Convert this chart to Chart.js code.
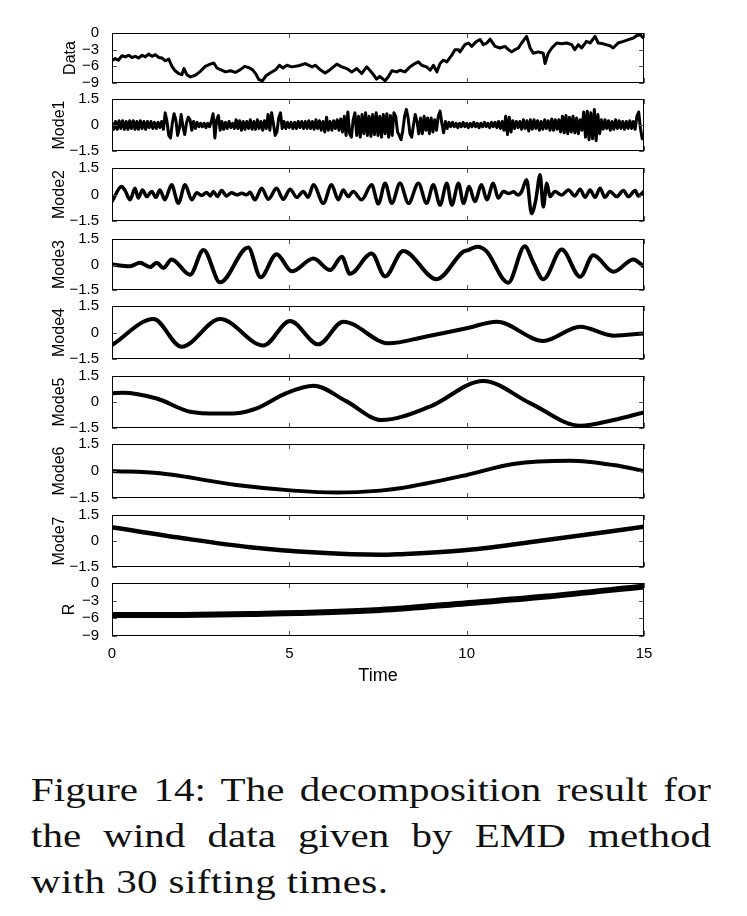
<!DOCTYPE html>
<html>
<head>
<meta charset="utf-8">
<script src="https://cdn.jsdelivr.net/npm/chart.js@4.4.1/dist/chart.umd.min.js"></script>
<style>
  body { margin: 0; background: #fff; width: 747px; height: 916px; overflow: hidden; position: relative; }
  canvas { position: absolute; left: 0; }
  .cap { position: absolute; left: 31px; width: 680px; font-family: "Liberation Serif", "Times New Roman", serif; font-size: 41px; line-height: 41px; color: #111; transform: scaleY(0.8); transform-origin: 0 0; }
  .just { text-align: justify; text-align-last: justify; }
</style>
</head>
<body>
<div class="cap just" style="top:774px">Figure 14: The decomposition result for</div>
<div class="cap just" style="top:820px">the wind data given by EMD method</div>
<div class="cap" style="top:866px; letter-spacing:0.4px">with 30 sifting times.</div>
<script>
// time axis ticks (s)
var xTickVals = [0, 5, 10, 15];

// raw wind data
var dataT = [0.00, 0.09, 0.18, 0.28, 0.38, 0.47, 0.56, 0.66, 0.75, 0.85,
  0.94, 1.03, 1.13, 1.22, 1.32, 1.41, 1.50, 1.60, 1.69, 1.78,
  1.88, 1.97, 2.03, 2.11, 2.21, 2.35, 2.49, 2.63, 2.77, 2.87,
  2.96, 3.06, 3.20, 3.34, 3.48, 3.62, 3.74, 3.85, 3.96, 4.06,
  4.14, 4.24, 4.34, 4.48, 4.62, 4.72, 4.82, 4.93, 5.07, 5.26,
  5.45, 5.64, 5.73, 5.87, 6.01, 6.15, 6.34, 6.48, 6.62, 6.76,
  6.90, 7.04, 7.18, 7.27, 7.37, 7.46, 7.55, 7.70, 7.80, 7.89,
  8.03, 8.12, 8.26, 8.40, 8.54, 8.64, 8.73, 8.87, 8.97, 9.06,
  9.16, 9.25, 9.34, 9.44, 9.58, 9.67, 9.77, 9.81, 9.95, 10.05,
  10.14, 10.28, 10.38, 10.47, 10.57, 10.66, 10.80, 10.94, 11.08, 11.18,
  11.27, 11.36, 11.46, 11.55, 11.69, 11.79, 11.88, 12.02, 12.16, 12.21,
  12.30, 12.40, 12.54, 12.68, 12.82, 12.96, 13.05, 13.15, 13.24, 13.38,
  13.48, 13.62, 13.71, 13.85, 14.04, 14.13, 14.27, 14.42, 14.56, 14.70,
  14.79, 14.89, 15.00];
var dataV = [-5.0, -4.6, -4.9, -4.1, -4.3, -4.0, -4.4, -4.2, -4.5, -4.0,
  -4.3, -3.8, -4.2, -3.9, -4.4, -4.5, -5.0, -4.7, -6.0, -6.8,
  -7.3, -7.5, -6.4, -7.5, -7.9, -7.6, -6.9, -6.0, -5.6, -5.4,
  -6.3, -6.6, -7.0, -6.8, -7.1, -6.6, -6.0, -6.2, -6.6, -7.4,
  -8.4, -8.6, -7.7, -7.1, -6.6, -5.8, -6.3, -5.8, -6.1, -5.9,
  -5.5, -6.1, -5.8, -6.6, -7.2, -6.6, -5.6, -6.1, -6.4, -7.0,
  -6.4, -7.3, -6.1, -6.7, -7.5, -8.3, -7.8, -8.6, -7.8, -6.8,
  -7.0, -6.7, -7.0, -6.1, -5.5, -5.2, -5.8, -6.1, -6.7, -5.8,
  -7.0, -5.5, -4.9, -5.2, -4.0, -3.0, -3.0, -3.4, -2.1, -1.8,
  -2.4, -1.5, -1.2, -2.1, -1.8, -1.1, -2.4, -2.7, -2.4, -3.0,
  -3.4, -3.0, -2.7, -1.8, -0.6, -2.7, -3.65, -3.4, -3.65, -5.5,
  -3.65, -2.7, -1.8, -1.95, -1.8, -2.1, -3.0, -2.1, -2.7, -1.5,
  -1.8, -0.6, -1.8, -1.95, -2.3, -2.7, -1.8, -1.5, -1.2, -0.9,
  -0.5, -0.3, -1.0];

// mode 1, read every 0.05 s
var mode1Step = 0.05;
var mode1V = [0.15, -0.25, 0.2, -0.25, 0.25, -0.2, 0.25, -0.25, 0.2, -0.25,
  0.25, -0.2, 0.25, -0.25, 0.2, -0.25, 0.25, -0.2, 0.2, -0.25,
  0.2, -0.15, 0.2, -0.2, 0.15, -0.2, 0.15, -0.15, 0.2, -0.25,
  0.7, 0.2, -0.6, -0.75, 0.1, 0.65, 0.3, -0.6, -0.2, 0.6,
  -0.1, -0.55, 0.1, 0.45, 0.3, -0.3, 0.2, -0.2, 0.15, -0.1,
  0.1, -0.1, 0.1, -0.15, 0.1, -0.1, 0.2, 0.65, -0.75, 0.3,
  0.55, -0.3, 0.2, -0.25, 0.15, -0.2, 0.2, -0.15, 0.1, -0.2,
  0.3, -0.2, 0.25, -0.3, 0.2, -0.25, 0.2, -0.2, 0.3, -0.25,
  0.2, -0.25, 0.3, -0.2, 0.2, -0.3, 0.25, -0.2, 0.6, -0.3,
  0.7, 0.1, -0.6, -0.4, 0.4, 0.7, -0.2, 0.2, -0.2, 0.15,
  -0.15, 0.15, -0.2, 0.15, -0.2, 0.2, -0.15, 0.2, -0.2, 0.2,
  -0.2, 0.25, -0.2, 0.2, -0.25, 0.3, -0.2, 0.25, -0.3, 0.2,
  -0.4, 0.45, -0.3, 0.2, -0.3, 0.25, -0.2, 0.3, -0.3, 0.35,
  -0.4, 0.5, -0.6, 0.75, -0.5, -0.7, 0.3, 0.7, -0.6, 0.5,
  -0.7, 0.6, -0.5, 0.7, -0.6, 0.5, -0.65, 0.6, -0.55, 0.7,
  -0.6, 0.5, -0.7, 0.6, -0.5, 0.65, -0.7, 0.55, -0.6, 0.7,
  0.5, -0.4, -0.6, -0.85, -0.3, 0.5, 0.9, 0.4, -0.5, -0.7,
  0.0, 0.6, 0.2, -0.5, 0.4, -0.5, 0.5, -0.3, 0.4, -0.5,
  0.4, -0.4, 0.3, -0.3, 0.5, 0.8, 0.1, -0.45, 0.2, -0.2,
  0.15, -0.1, 0.15, -0.1, 0.1, -0.15, 0.1, -0.1, 0.15, -0.1,
  0.1, -0.15, 0.1, -0.1, 0.15, -0.1, 0.1, -0.15, 0.1, -0.1,
  0.15, -0.1, 0.1, -0.15, 0.15, -0.1, 0.15, -0.15, 0.2, -0.2,
  0.2, -0.3, 0.5, -0.55, 0.45, -0.4, 0.25, -0.2, 0.2, -0.15,
  0.2, -0.25, 0.3, -0.2, 0.25, -0.35, 0.3, -0.25, 0.3, -0.2,
  0.25, -0.3, 0.2, -0.25, 0.3, -0.2, 0.25, -0.3, 0.35, -0.3,
  0.3, -0.25, 0.3, -0.4, 0.5, -0.45, 0.55, -0.5, 0.45, -0.4,
  0.5, -0.45, 0.4, -0.5, 0.3, -0.3, 0.75, -0.7, 0.8, -0.85,
  0.7, -0.8, 0.9, -0.9, 0.6, -0.5, 0.3, -0.25, 0.3, -0.2,
  0.25, -0.3, 0.2, -0.25, 0.3, -0.2, 0.25, -0.2, 0.2, -0.25,
  0.2, -0.2, 0.25, -0.2, 0.2, -0.25, 0.5, 0.75, -0.2, -0.8,
  -0.6];
var mode1T = mode1V.map(function (v, i) { return i * mode1Step; });

// modes 2..7 and residue: turning points
var mode2T = [0, 0.27, 0.37, 0.51, 0.65, 0.74, 0.86, 0.98, 1.12, 1.24,
  1.35, 1.49, 1.68, 1.87, 2.06, 2.25, 2.39, 2.53, 2.67, 2.77,
  2.86, 2.97, 3.09, 3.23, 3.37, 3.52, 3.66, 3.80, 3.89, 4.03,
  4.22, 4.41, 4.64, 4.83, 5.02, 5.21, 5.39, 5.53, 5.68, 5.96,
  6.19, 6.38, 6.52, 6.66, 6.80, 7.04, 7.32, 7.51, 7.70, 7.89,
  8.12, 8.36, 8.64, 8.87, 9.06, 9.25, 9.44, 9.58, 9.77, 9.91,
  10.07, 10.23, 10.42, 10.57, 10.75, 10.89, 11.04, 11.18, 11.32, 11.45,
  11.55, 11.69, 11.83, 11.95, 12.07, 12.16, 12.26, 12.35, 12.49, 12.68,
  12.87, 13.05, 13.20, 13.34, 13.48, 13.62, 13.76, 13.90, 14.04, 14.23,
  14.42, 14.56, 14.75, 14.84, 15];
var mode2V = [-0.4, 0.45, 0.22, -0.3, 0.35, -0.2, 0.26, -0.12, 0.17, -0.16,
  0.26, -0.3, 0.55, -0.5, 0.55, -0.3, 0.1, -0.05, 0.12, -0.08,
  0.17, -0.12, 0.22, -0.08, 0.1, -0.02, 0.07, -0.02, 0.13, -0.3,
  0.35, -0.27, 0.35, -0.27, 0.3, -0.16, 0.17, -0.15, 0.55, -0.5,
  0.55, -0.3, 0.26, -0.12, 0.17, -0.3, 0.55, -0.53, 0.64, -0.5,
  0.64, -0.5, 0.64, -0.5, 0.55, -0.6, 0.64, -0.6, 0.64, -0.5,
  0.45, -0.4, 0.55, -0.3, 0.64, -0.2, 0.17, 0.05, 0.15, -0.03,
  0.17, 0.83, -1.07, -0.3, 1.12, -0.7, 0.64, -0.12, 0.17, -0.03,
  0.26, -0.08, 0.3, -0.16, 0.26, -0.16, 0.35, -0.16, 0.17, -0.12,
  0.22, -0.12, 0.22, -0.08, 0.17];

var mode3T = [0, 0.51, 0.79, 1.07, 1.26, 1.45, 1.68, 2.2, 2.58, 3.05,
  3.84, 4.19, 4.64, 5.07, 5.68, 6.15, 6.48, 6.71, 7.32, 7.7,
  8.21, 9.15, 9.9, 10.05, 10.3, 10.55, 11.17, 11.64, 11.87, 12.16,
  12.68, 13.2, 13.57, 14.14, 14.7, 15];
var mode3V = [0, -0.1, 0.1, -0.15, 0.1, -0.2, 0.3, -0.6, 0.85, -1.05,
  1.0, -0.75, 0.6, -0.4, 0.35, -0.33, 0.45, -0.55, 0.65, -0.7,
  0.8, -0.87, 0.75, 0.85, 1.05, 0.8, -1.07, 1.07, 0.15, -0.87,
  0.88, -0.72, 0.55, -0.43, 0.3, -0.13];

var mode4T = [0, 1.17, 1.96, 3.05, 4.27, 5.02, 5.82, 6.52, 7.8, 8.8, 10.0, 10.85, 12.16, 13.2, 14.14, 15];
var mode4V = [-0.71, 0.76, -0.8, 0.76, -0.74, 0.65, -0.67, 0.61, -0.61, -0.25, 0.24, 0.61, -0.48, 0.33, -0.18, -0.05];

var mode5T = [0, 0.3, 1.26, 2.2, 3.0, 3.5, 4.08, 4.9, 5.68, 6.6, 7.6, 8.96, 10.47, 11.8, 13.2, 14.14, 15];
var mode5V = [0.5, 0.54, 0.2, -0.56, -0.67, -0.65, -0.37, 0.5, 0.94, 0.05, -1.04, -0.27, 1.21, -0.08, -1.37, -1.04, -0.6];

var mode6T = [0, 1.35, 3.51, 5.11, 6.33, 7.56, 8.12, 10.0, 11.31, 12.92, 14.14, 15];
var mode6V = [0.0, -0.13, -0.78, -1.09, -1.2, -1.09, -0.96, -0.22, 0.39, 0.57, 0.33, 0.0];

var mode7T = [0, 2.0, 3.89, 5.77, 7.56, 8.12, 10.0, 12.25, 15];
var mode7V = [0.79, 0.16, -0.36, -0.67, -0.8, -0.76, -0.52, 0.06, 0.82];

var resT = [0, 2.0, 3.89, 7.56, 10.0, 12.25, 15];
var resV = [-5.45, -5.42, -5.28, -4.59, -3.44, -2.3, -0.58];

// layout of the stacked panels (page px)
var panels = [
  { title: 'Data',  top: 33,  bottom: 83,  min: -9,   max: 0,   step: 3,   titleX: 71, t: dataT,  v: dataV,  width: 3, smooth: false },
  { title: 'Mode1', top: 99,  bottom: 151, min: -1.5, max: 1.5, step: 1.5, titleX: 60, t: mode1T, v: mode1V, width: 3, smooth: false },
  { title: 'Mode2', top: 168, bottom: 221, min: -1.5, max: 1.5, step: 1.5, titleX: 60, t: mode2T, v: mode2V, width: 3.5, smooth: true },
  { title: 'Mode3', top: 239, bottom: 290, min: -1.5, max: 1.5, step: 1.5, titleX: 60, t: mode3T, v: mode3V, width: 4, smooth: true },
  { title: 'Mode4', top: 306, bottom: 359, min: -1.5, max: 1.5, step: 1.5, titleX: 60, t: mode4T, v: mode4V, width: 4, smooth: true },
  { title: 'Mode5', top: 376, bottom: 428, min: -1.5, max: 1.5, step: 1.5, titleX: 60, t: mode5T, v: mode5V, width: 4, smooth: true },
  { title: 'Mode6', top: 444, bottom: 498, min: -1.5, max: 1.5, step: 1.5, titleX: 60, t: mode6T, v: mode6V, width: 4, smooth: true },
  { title: 'Mode7', top: 515, bottom: 567, min: -1.5, max: 1.5, step: 1.5, titleX: 60, t: mode7T, v: mode7V, width: 4.5, smooth: true },
  { title: 'R',     top: 583, bottom: 636, min: -9,   max: 0,   step: 3,   titleX: 70, t: resT,   v: resV,   width: 6, smooth: true, timeAxis: true }
];

var FONT = '"Liberation Sans", Arial, Helvetica, sans-serif';

// matlab style box with inward ticks
var boxPlugin = {
  id: 'box',
  afterDatasetsDraw: function (chart) {
    var ctx = chart.ctx, a = chart.chartArea, x = chart.scales.x, y = chart.scales.y;
    ctx.save();
    ctx.strokeStyle = '#555';
    ctx.lineWidth = 1;
    ctx.beginPath();
    xTickVals.forEach(function (v) {
      var px = Math.round(x.getPixelForValue(v)) + 0.5;
      ctx.moveTo(px, a.top); ctx.lineTo(px, a.top + 5);
      ctx.moveTo(px, a.bottom); ctx.lineTo(px, a.bottom - 5);
    });
    y.ticks.forEach(function (t) {
      var py = Math.round(y.getPixelForValue(t.value)) + 0.5;
      ctx.moveTo(a.left, py); ctx.lineTo(a.left + 5, py);
      ctx.moveTo(a.right, py); ctx.lineTo(a.right - 5, py);
    });
    ctx.stroke();
    ctx.strokeStyle = '#000';
    ctx.strokeRect(a.left + 0.5, a.top + 0.5, a.width - 1, a.height - 1);
    ctx.restore();
  }
};

panels.forEach(function (p) {
  var padT = 14;
  var padB = p.timeAxis ? 0 : 14;
  var axisH = p.timeAxis ? 51 : 0;
  var h = p.bottom - p.top + padT + padB + axisH;
  var cv = document.createElement('canvas');
  cv.width = 747;
  cv.height = h;
  cv.style.top = (p.top - padT) + 'px';
  document.body.appendChild(cv);

  var pts = p.t.map(function (t, i) { return { x: t, y: p.v[i] }; });

  new Chart(cv.getContext('2d'), {
    type: 'line',
    data: {
      datasets: [{
        data: pts,
        borderColor: '#000',
        borderWidth: p.width,
        borderJoinStyle: 'round',
        pointRadius: 0,
        tension: 0,
        cubicInterpolationMode: p.smooth ? 'monotone' : 'default',
        fill: false
      }]
    },
    options: {
      responsive: false,
      animation: false,
      devicePixelRatio: 1,
      layout: { padding: { top: padT, bottom: padB, left: 0, right: 103 } },
      plugins: { legend: { display: false }, tooltip: { enabled: false } },
      scales: {
        x: {
          type: 'linear', min: 0, max: 15,
          display: !!p.timeAxis,
          grid: { display: false }, border: { display: false },
          ticks: { stepSize: 5, padding: 1, maxRotation: 0, color: '#000', font: { family: FONT, size: 15 } },
          title: { display: true, text: 'Time', color: '#000', font: { family: FONT, size: 18 }, padding: 0 },
          afterFit: function (s) { s.height = axisH; }
        },
        y: {
          min: p.min, max: p.max,
          grid: { display: false }, border: { display: false },
          ticks: {
            stepSize: p.step, padding: 5, autoSkip: false, color: '#000',
            font: { family: FONT, size: 15 },
            callback: function (v) { return String(v).replace('-', '\u2212'); }
          },
          title: { display: true, text: p.title, color: '#000', font: { family: FONT, size: 16 }, padding: { top: p.titleX - 9.6, bottom: 0 } },
          afterFit: function (s) { s.width = 112; }
        }
      }
    },
    plugins: [boxPlugin]
  });
});
</script>
</body>
</html>
